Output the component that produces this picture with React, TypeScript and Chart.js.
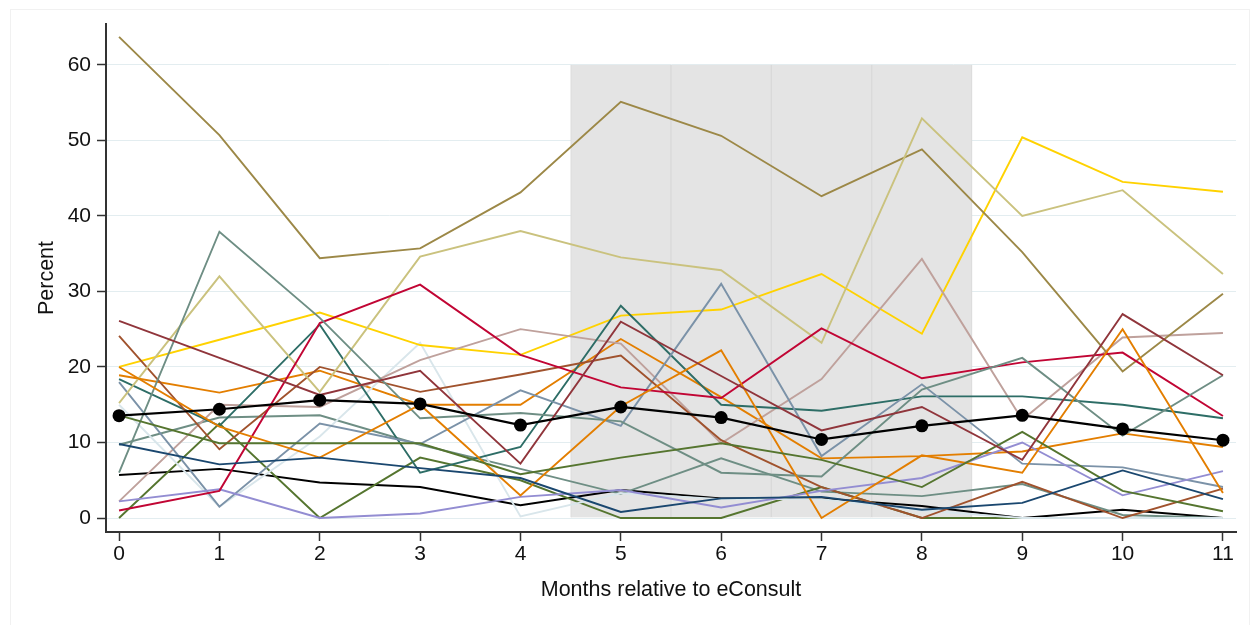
import React, { useEffect, useRef } from 'react';
import { Chart, registerables } from 'chart.js';

Chart.register(...registerables);

// ---- data ----
const months = [0, 1, 2, 3, 4, 5, 6, 7, 8, 9, 10, 11];
const xTicks = [0, 1, 2, 3, 4, 5, 6, 7, 8, 9, 10, 11];
const yTicks = [0, 10, 20, 30, 40, 50, 60];
const shadeMonths = [5, 6, 7, 8];
const shadeTop = [60, 60, 60, 60];

const brown = [63.7, 50.7, 34.4, 35.7, 43.1, 55.1, 50.6, 42.6, 48.8, 35.2, 19.4, 29.7];
const khaki = [15.2, 32.0, 16.7, 34.6, 38.0, 34.5, 32.8, 23.2, 52.9, 40.0, 43.4, 32.3];
const gold = [20.0, 23.6, 27.2, 22.9, 21.6, 26.8, 27.6, 32.3, 24.4, 50.4, 44.5, 43.2];
const cranberry = [1.0, 3.6, 25.8, 30.9, 21.6, 17.3, 15.9, 25.1, 18.5, 20.6, 21.9, 13.5];
const maroon = [26.1, 21.2, 16.3, 19.5, 7.2, 26.0, 18.8, 11.6, 14.7, 7.7, 27.0, 18.9];
const sienna = [24.1, 9.1, 20.0, 16.7, 19.0, 21.5, 10.3, 4.1, 0, 4.8, 0, 3.9];
const erose = [2.2, 15.0, 14.7, 20.9, 25.0, 23.1, 9.9, 18.4, 34.3, 13.0, 23.9, 24.5];
const emerald = [18.4, 12.2, 25.6, 6.0, 9.4, 28.1, 15.0, 14.2, 16.1, 16.1, 15.0, 13.2];
const tealA = [6.0, 37.9, 26.5, 13.2, 13.9, 12.8, 6.0, 5.5, 17.0, 21.2, 10.9, 18.9];
const tealB = [9.7, 13.3, 13.6, 9.7, 6.5, 3.2, 7.9, 3.5, 2.9, 4.5, 0.4, 0];
const emidblue = [18.0, 1.5, 12.5, 9.8, 16.9, 12.2, 31.0, 8.2, 17.7, 7.2, 6.7, 4.1];
const bluishgray = [15.0, 1.5, 10.8, 23.2, 0.2, 3.3, 2.5, 2.5, 1.0, 0, 0, 0];
const orangeA = [20.0, 12.1, 8.0, 15.0, 3.0, 14.8, 22.2, 0, 8.3, 6.0, 25.0, 3.3];
const orangeB = [18.9, 16.6, 19.5, 15.0, 15.0, 23.7, 16.0, 7.9, 8.2, 8.8, 11.2, 9.4];
const greenA = [13.6, 9.9, 9.9, 9.9, 5.8, 8.0, 9.9, 7.7, 4.1, 11.4, 3.6, 0.9];
const greenB = [0, 12.5, 0, 8.0, 5.0, 0, 0, 4.1, 0, 0, 0, 0];
const navy = [9.8, 7.1, 8.0, 6.6, 5.3, 0.8, 2.6, 2.8, 1.1, 2.0, 6.3, 2.5];
const blackThin = [5.7, 6.5, 4.7, 4.1, 1.7, 3.7, 2.6, 2.6, 1.6, 0, 1.1, 0];
const lavender = [2.2, 3.8, 0, 0.6, 2.8, 3.7, 1.4, 3.6, 5.3, 10.0, 3.0, 6.2];
const meanLine = [13.55, 14.4, 15.6, 15.1, 12.3, 14.7, 13.3, 10.4, 12.2, 13.6, 11.8, 10.3];

const series: [number[], string][] = [
  [navy, '#1a476f'],
  [maroon, '#90353b'],
  [greenA, '#55752f'],
  [orangeA, '#e37e00'],
  [tealA, '#6e8e84'],
  [cranberry, '#c10534'],
  [lavender, '#938dd2'],
  [khaki, '#cac27e'],
  [sienna, '#a0522d'],
  [emidblue, '#7b92a8'],
  [emerald, '#2d6d66'],
  [brown, '#9c8847'],
  [erose, '#bfa19c'],
  [gold, '#ffd200'],
  [bluishgray, '#d9e6eb'],
  [orangeB, '#e37e00'],
  [greenB, '#55752f'],
  [tealB, '#6e8e84'],
  [blackThin, '#000000'],
];

const FONT = "'Liberation Sans', Arial, Helvetica, sans-serif";

const toPts = (vals: number[]) => vals.map((v, i) => ({ x: months[i], y: v }));

export default function App() {
  const ref = useRef<HTMLCanvasElement | null>(null);

  useEffect(() => {
    if (!ref.current) return;
    const datasets: any[] = [];
    datasets.push({
      type: 'line',
      data: toPts(meanLine),
      borderColor: '#000000',
      backgroundColor: '#000000',
      borderWidth: 2.2,
      pointRadius: 6.5,
      pointBorderWidth: 0,
      pointBackgroundColor: '#000000',
      tension: 0,
      fill: false,
      order: 0,
    });
    series.forEach(([vals, color]) => {
      datasets.push({
        type: 'line',
        data: toPts(vals),
        borderColor: color,
        borderWidth: 1.9,
        pointRadius: 0,
        tension: 0,
        fill: false,
        order: 1,
      });
    });
    datasets.push({
      type: 'bar',
      data: shadeMonths.map((m, i) => ({ x: m, y: shadeTop[i] })),
      backgroundColor: '#e4e4e4',
      borderColor: '#dadada',
      borderWidth: { left: 1, right: 1, top: 0, bottom: 0 },
      borderSkipped: false,
      barPercentage: 1,
      categoryPercentage: 1,
      order: 10,
    });

    const chart = new Chart(ref.current, {
      type: 'line',
      data: { datasets },
      options: {
        animation: false,
        responsive: false,
        devicePixelRatio: 1,
        events: [],
        layout: { padding: { left: 0, right: 21, top: 24, bottom: 0 } },
        plugins: { legend: { display: false }, tooltip: { enabled: false } },
        scales: {
          x: {
            type: 'linear',
            min: -0.13,
            max: 11.13,
            offset: false,
            afterBuildTicks: (s: any) => {
              s.ticks = xTicks.map((v) => ({ value: v }));
            },
            afterFit: (s: any) => {
              s.height = 93;
            },
            grid: {
              display: true,
              offset: false,
              drawOnChartArea: false,
              drawTicks: true,
              tickLength: 9,
              tickColor: '#333333',
              tickWidth: 1.5,
            },
            border: { display: true, color: '#333333', width: 2 },
            ticks: {
              font: { family: FONT, size: 21 },
              color: '#111111',
              padding: 1,
              maxRotation: 0,
              autoSkip: false,
            },
            title: {
              display: true,
              text: 'Months relative to eConsult',
              font: { family: FONT, size: 21.5 },
              color: '#111111',
              padding: { top: 0, bottom: 22 },
            },
          },
          y: {
            type: 'linear',
            min: -1.85,
            max: 65.4,
            afterBuildTicks: (s: any) => {
              s.ticks = yTicks.map((v) => ({ value: v }));
            },
            afterFit: (s: any) => {
              s.width = 106;
            },
            grid: {
              color: '#e3edf0',
              lineWidth: 1,
              drawTicks: true,
              tickLength: 9,
              tickColor: '#333333',
              tickWidth: 1.5,
            },
            border: { display: true, color: '#333333', width: 2 },
            ticks: {
              font: { family: FONT, size: 21 },
              color: '#111111',
              padding: 6,
            },
            title: {
              display: true,
              text: 'Percent',
              font: { family: FONT, size: 21.5 },
              color: '#111111',
              padding: { top: 34, bottom: 0 },
            },
          },
        },
      },
    } as any);
    return () => chart.destroy();
  }, []);

  return (
    <div
      style={{
        position: 'fixed',
        left: 0,
        top: 0,
        width: 1257,
        height: 625,
        background: '#ffffff',
        overflow: 'hidden',
      }}
    >
      <div
        style={{
          position: 'absolute',
          left: 10,
          top: 9,
          width: 1240,
          height: 640,
          border: '1px solid #f1f1f1',
          boxSizing: 'border-box',
        }}
      />
      <canvas
        ref={ref}
        width={1257}
        height={625}
        style={{ position: 'absolute', left: 0, top: 0, display: 'block' }}
      />
    </div>
  );
}
